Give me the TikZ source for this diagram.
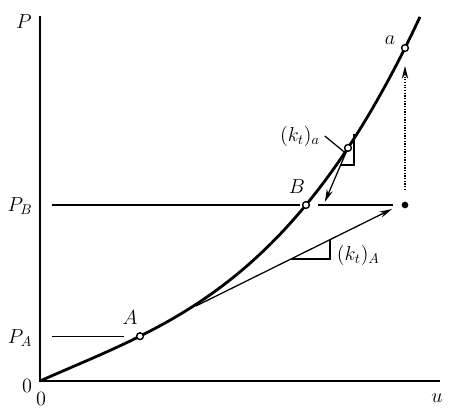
\documentclass[tikz,border=0pt]{standalone}
\usepackage{amsmath}
\usepackage{tikz}
\usetikzlibrary{arrows.meta}

\begin{document}
\begin{tikzpicture}[font=\fontsize{14}{16}\selectfont,
  axis/.style={line width=1.3pt},
  curve/.style={line width=2pt},
  thin/.style={line width=0.9pt},
  arr/.style={line width=0.9pt,-{Stealth[length=3.2mm,width=1.6mm]}},
  pt/.style={draw,circle,line width=1pt,fill=white,inner sep=0pt,minimum size=0.17cm}]
\useasboundingbox (-1.0,-0.7) rectangle (10.275,9.525);
% axes
\coordinate (O) at (0,0);
\coordinate (ytop) at (0,9.125);
\coordinate (xend) at (10.0,0);
\draw[axis](ytop)--(O)--(xend);
% the load-displacement curve
\draw[curve] plot[domain=0:9.5,samples=80] (\x,{0.444*\x-0.01717*\x*\x+0.007505*\x*\x*\x});
\node[pt] (A) at (2.5,1.12) {};
\node[pt] (B) at (6.65,4.4) {};
\node[pt] (T) at (7.7,5.827) {};
\node[pt] (a) at (9.125,8.325) {};
\node[pt,fill=black,minimum size=0.13cm] (D) at (9.125,4.4) {};
% load levels
\coordinate (pa0) at (0.3,1.12); \coordinate (pa1) at (2.1,1.12);
\coordinate (pb0) at (0.3,4.4); \coordinate (pb1) at (6.5,4.4);
\coordinate (pb2) at (6.95,4.4); \coordinate (pb3) at (8.825,4.4);
\draw[thin](pa0)--(pa1);
\draw[thin](pb0)--(pb1); \draw[thin](pb2)--(pb3);
% tangent at A
\coordinate (tA0) at (3.9,1.875); \coordinate (tA1) at (8.8,4.3);
\draw[arr](tA0)--(tA1);
\coordinate (kA0) at (6.274,3.05); \coordinate (kA1) at (7.25,3.05); \coordinate (kA2) at (7.25,3.533);
\draw[thin](kA0)--(kA1)--(kA2);
% tangent at a
\coordinate (ta1) at (7.12,4.475);
\draw[arr](T)--(ta1);
\coordinate (ka0) at (7.518,5.402); \coordinate (ka1) at (7.85,5.402); \coordinate (ka2) at (7.85,6.177);
\draw[thin](ka0)--(ka1)--(ka2);
% load increment
\coordinate (up0) at (9.125,4.775); \coordinate (up1) at (9.125,7.875);
\draw[arr,densely dotted](up0)--(up1);
% labels
\node (lP) at (-0.4,8.975) {$P$};
\node (lPB) at (-0.5,4.375) {$P_B$};
\node (lPA) at (-0.5,1.075) {$P_A$};
\node (l0y) at (-0.325,-0.125) {$0$};
\node (l0x) at (0.025,-0.44) {$0$};
\node (lu) at (9.925,-0.425) {$u$};
\node (lA) at (2.25,1.575) {$A$};
\node (lB) at (6.425,4.85) {$B$};
\node (la) at (8.75,8.525) {$a$};
\node[anchor=west] (lkA) at (7.3,3.15) {$(k_t)_A$};
\node (lka) at (6.5,6.125) {$(k_t)_a$};
\coordinate (lead) at (7.6,5.73);
\draw[thin](lka.east)--(lead);
\end{tikzpicture}
\end{document}
